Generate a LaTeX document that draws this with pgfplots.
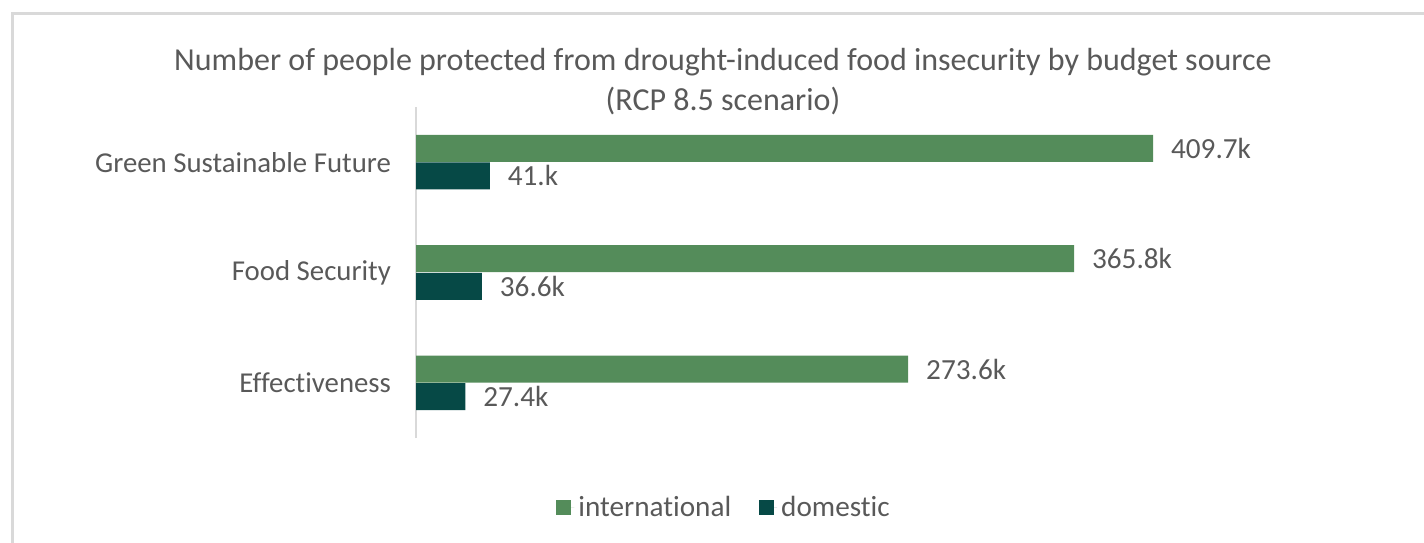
\documentclass[border=0pt]{standalone}
\usepackage{pgfplots}
\pgfplotsset{compat=1.18}
\usepackage{fontspec}
\setmainfont{Carlito}[Ligatures={NoCommon}]
\definecolor{intl}{RGB}{84,140,90}
\definecolor{dom}{RGB}{6,73,70}
\definecolor{txt}{RGB}{89,89,89}
\definecolor{frame}{RGB}{217,217,217}
\begin{document}
\begin{tikzpicture}
\begin{scope}[x=0.5bp,y=-0.5bp]
\path[use as bounding box] (0,0) rectangle (1424,543);
\draw[frame, line width=1.5bp] (12,543) -- (12,14) -- (1424,14);
\node[txt, font=\fontsize{16bp}{20bp}\selectfont, align=center] at (723,82)
  {Number of people protected from drought-induced food insecurity by budget source\\(RCP 8.5 scenario)};
\end{scope}
\begin{axis}[
  at={(208bp,-219bp)}, anchor=south west,
  scale only axis, width=500bp, height=165.5bp,
  xmin=0, xmax=555.9, ymin=-0.5, ymax=2.5,
  axis x line=none,
  axis y line*=left,
  y axis line style={frame, line width=1bp, -},
  ytick={0,1,2},
  yticklabels={Effectiveness, Food Security, Green Sustainable Future},
  major tick length=0pt,
  yticklabel style={txt, font=\fontsize{14.4bp}{17bp}\selectfont, xshift=-9bp},
  xbar, bar width=0.245, bar shift=0pt,
  point meta=explicit symbolic,
  nodes near coords,
  nodes near coords style={txt, font=\fontsize{14.6bp}{17bp}\selectfont, anchor=west, xshift=5.5bp},
  legend style={at={(0.309,-0.21)}, anchor=center, draw=none, fill=none,
    legend columns=2, font=\fontsize{14.6bp}{17bp}\selectfont, text=txt,
    /tikz/every even column/.append style={column sep=12bp}},
  legend image code/.code={\fill[#1] (0bp,-3.75bp) rectangle (7.5bp,3.75bp); \path (0bp,0bp) -- (9bp,0bp);},
  clip=false,
]
\addplot[fill=intl, draw=none] coordinates {(273.6,0.125) [273.6k] (365.8,1.125) [365.8k] (409.7,2.125) [409.7k]};
\addlegendentry{international}
\addplot[fill=dom, draw=none] coordinates {(27.4,-0.125) [27.4k] (36.6,0.875) [36.6k] (41.0,1.875) [41.k]};
\addlegendentry{domestic}
\end{axis}
\end{tikzpicture}
\end{document}
